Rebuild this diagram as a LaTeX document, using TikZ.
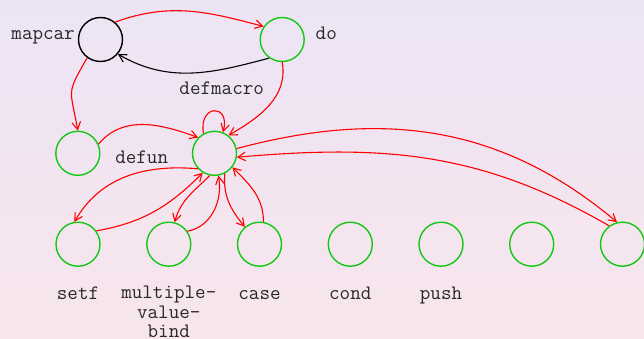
\documentclass[tikz,border=0pt]{standalone}
\usetikzlibrary{arrows.meta}
\definecolor{bgtop}{RGB}{236,228,245}
\definecolor{bgbot}{RGB}{248,229,236}
\definecolor{ngreen}{RGB}{20,200,20}
\definecolor{txt}{RGB}{40,40,40}
\begin{document}
\begin{tikzpicture}[x=1pt,y=-1pt,
  vtx/.style={circle,draw=ngreen,line width=1.4pt,minimum size=44pt,inner sep=0pt},
  lbl/.style={font=\ttfamily\fontsize{20.5}{19.5}\selectfont,text=txt,inner sep=0pt},
  rd/.style={draw=red,line width=1.1pt,-{Straight Barb[length=7.5pt,width=8.5pt]}},
  bk/.style={draw=black,line width=1.1pt,-{Straight Barb[length=7.5pt,width=8.5pt]}}]
\shade[top color=bgtop,bottom color=bgbot] (0,0) rectangle (644,339);
\useasboundingbox (0,0) rectangle (644,339);
% nodes
\node[vtx,draw=black] (mapcar) at (100.5,39.5) {};
\node[vtx] (do) at (282.2,39.5) {};
\node[vtx] (defun) at (77.8,153.3) {};
\node[vtx] (c) at (214.5,153.3) {};
\node[vtx] (setf) at (78,244.2) {};
\node[vtx] (mvb) at (168.8,244.2) {};
\node[vtx] (case) at (259.5,244.2) {};
\node[vtx] (cond) at (350.3,244.2) {};
\node[vtx] (push) at (441,244.2) {};
\node[vtx] (n6) at (531.7,244.2) {};
\node[vtx] (n7) at (622.5,244.2) {};
% labels
\node[lbl,anchor=base east] (lmapcar) at (75,39.5) {mapcar};
\node[lbl,anchor=base west] (ldo) at (315.5,40) {do};
\node[lbl,anchor=base] (ldefmacro) at (221.7,95) {defmacro};
\node[lbl,anchor=base] (ldefun) at (141.7,163.3) {defun};
\node[lbl,anchor=base] (lsetf) at (78,299) {setf};
\node[lbl,anchor=base,align=center] (lmvb) at (168.8,337.5) {multiple-\\value-\\bind};
\node[lbl,anchor=base] (lcase) at (259.5,299) {case};
\node[lbl,anchor=base] (lcond) at (350.3,299) {cond};
\node[lbl,anchor=base] (lpush) at (441,299) {push};
% edges
\draw[rd] (mapcar.50) to[out=20,in=165] (do.145);
\draw[bk] (do.235) to[out=195,in=-30] (mapcar.-40);
\draw[rd] (mapcar.234) to[out=240,in=100,looseness=1.5] (defun.90);
\draw[rd] (do.270) to[out=-80,in=30] (c.52);
\draw[rd] (c.119) .. controls +(-100:30) and +(-75:30) .. (c.68);
\draw[rd] (defun.24) to[out=50,in=160] (c.136);
\draw[rd] (c.12) to[out=15,in=140] (n7.104);
\draw[rd] (n7.126) to[out=150,in=5] (c.-10);
\draw[rd] (c.223) to[out=175,in=60] (setf.99);
\draw[rd] (setf.36) to[out=10,in=225] (c.239);
\draw[rd] (c.258) to[out=225,in=75] (mvb.75);
\draw[rd] (mvb.35) to[out=10,in=280] (c.280);
\draw[rd] (c.297) to[out=265,in=130] (case.130);
\draw[rd] (case.80) to[out=90,in=-45] (c.322);
\end{tikzpicture}
\end{document}
